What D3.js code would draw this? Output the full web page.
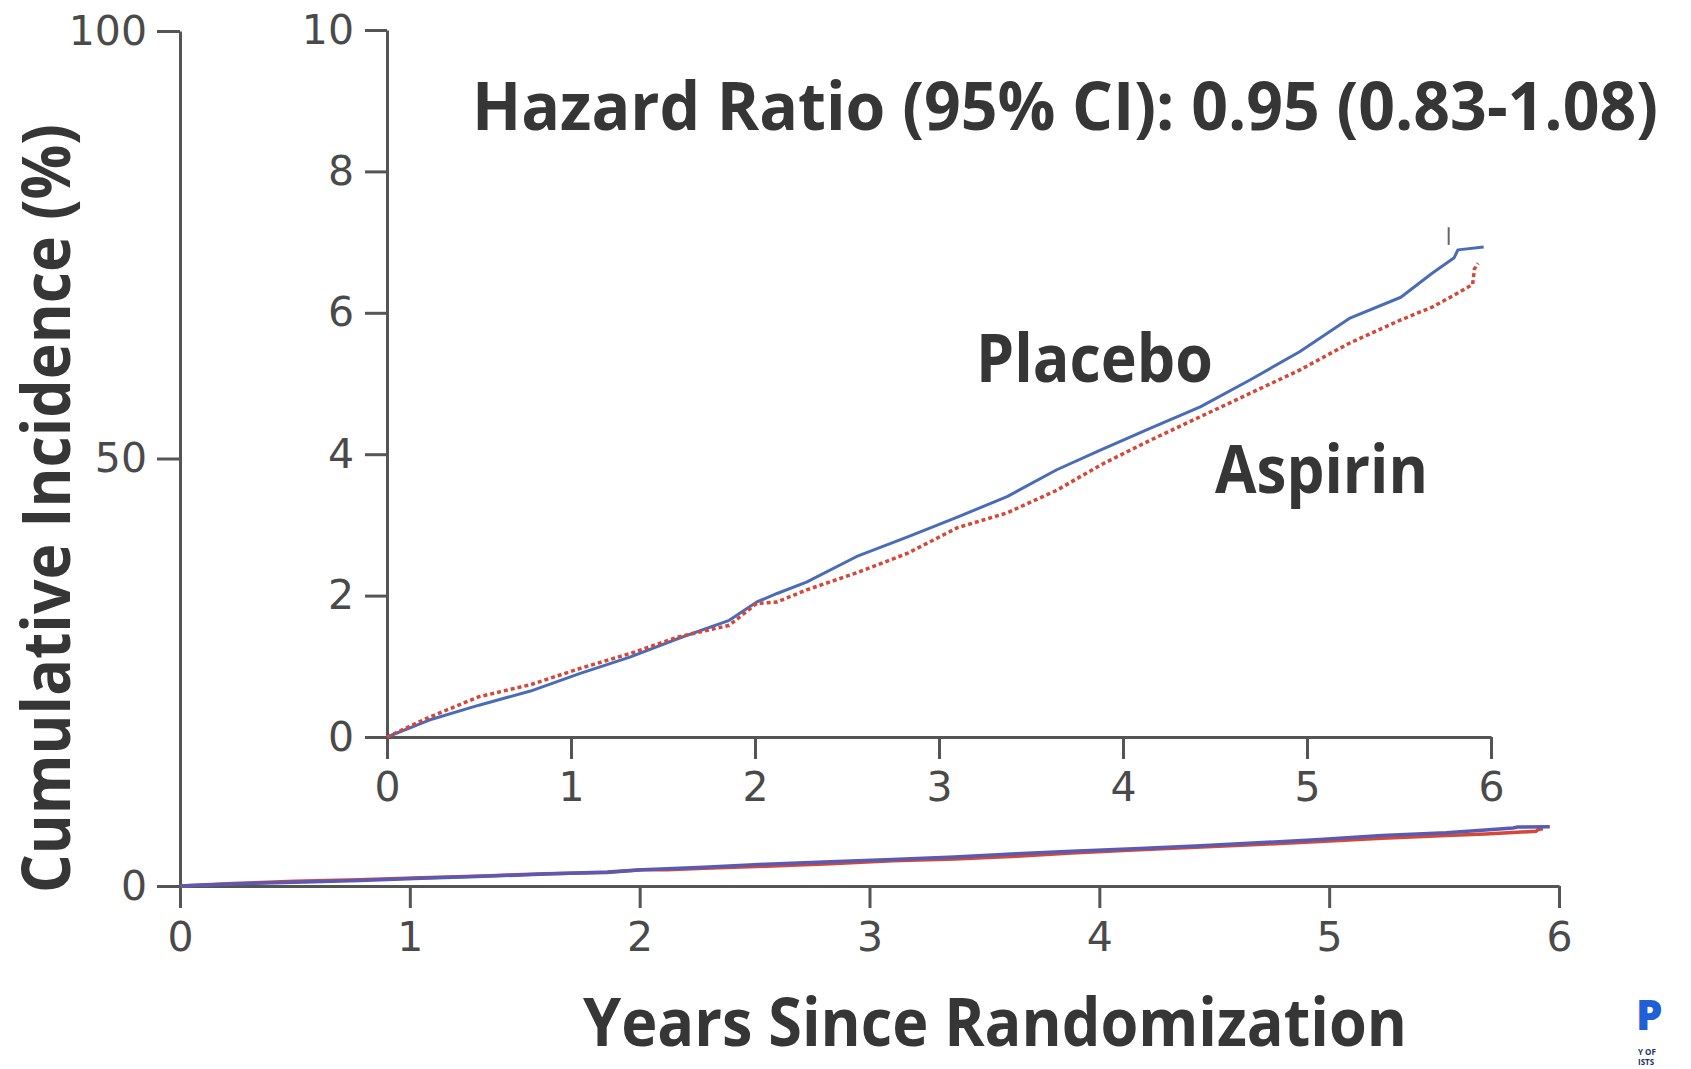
<!DOCTYPE html>
<html>
<head>
<meta charset="utf-8">
<script src="https://cdn.jsdelivr.net/npm/d3@7"></script>
<style>
  html, body { margin: 0; padding: 0; background: #fff; }
  svg { display: block; }
</style>
</head>
<body>
<svg id="chart" width="1691" height="1069"></svg>
<script>
// years since randomization, cumulative incidence (%)
const placeboYears = [0, 0.23, 0.5, 0.78, 1.05, 1.32, 1.59, 1.86, 2.01, 2.12, 2.28, 2.55, 2.83, 3.10, 3.37, 3.64, 3.88, 4.15, 4.42, 4.69, 4.96, 5.23, 5.51, 5.68, 5.80, 5.82, 5.96];
const placeboValues = [0, 0.24, 0.45, 0.65, 0.90, 1.13, 1.40, 1.65, 1.91, 2.03, 2.19, 2.55, 2.83, 3.11, 3.40, 3.78, 4.06, 4.37, 4.67, 5.05, 5.45, 5.92, 6.22, 6.56, 6.78, 6.89, 6.93];
const aspirinYears = [0, 0.23, 0.5, 0.78, 1.05, 1.32, 1.59, 1.86, 2.01, 2.12, 2.28, 2.55, 2.83, 3.10, 3.37, 3.64, 3.88, 4.15, 4.42, 4.69, 4.96, 5.23, 5.51, 5.68, 5.80, 5.90, 5.91, 5.93];
const aspirinValues = [0, 0.28, 0.57, 0.74, 0.97, 1.18, 1.42, 1.58, 1.89, 1.91, 2.08, 2.32, 2.60, 2.96, 3.17, 3.49, 3.85, 4.20, 4.53, 4.86, 5.19, 5.57, 5.90, 6.08, 6.25, 6.40, 6.62, 6.70];
const censorYear = 5.77;
const censorRange = [6.96, 7.21];

const xTicks = [0, 1, 2, 3, 4, 5, 6];
const innerYTicks = [0, 2, 4, 6, 8, 10];
const outerYTicks = [0, 50, 100];

const titleText = 'Hazard Ratio (95% CI): 0.95 (0.83-1.08)';
const yLabel = 'Cumulative Incidence (%)';
const xLabel = 'Years Since Randomization';

const colors = {
  placebo: '#4a6cb8',
  aspirin: '#d4483a',
  outer: '#5a5ab2',
  axis: '#555',
  tick: '#4a4a4a',
  text: '#363636'
};

const placebo = placeboYears.map((t, i) => ({ t, v: placeboValues[i] }));
const aspirin = aspirinYears.map((t, i) => ({ t, v: aspirinValues[i] }));
const fmt = d3.format('d');

const svg = d3.select('#chart');
svg.append('rect').attr('width', 1691).attr('height', 1069).attr('fill', '#fff');

const styleAxis = (g) => {
  g.selectAll('path, line').attr('stroke', colors.axis).attr('stroke-width', 3);
  g.selectAll('text')
    .attr('fill', colors.tick)
    .attr('font-family', 'DejaVu Sans, sans-serif')
    .attr('font-size', 41);
};

// outer plot (0-100 %)
const xOuter = d3.scaleLinear().domain([0, 6]).range([180, 1559]);
const yOuter = d3.scaleLinear().domain([0, 100]).range([886, 31]);

svg.append('g')
  .attr('transform', 'translate(0,886)')
  .call(d3.axisBottom(xOuter).tickValues(xTicks).tickFormat(fmt).tickSize(22).tickSizeOuter(0).tickPadding(14))
  .call(styleAxis);
svg.append('g')
  .attr('transform', 'translate(180,0)')
  .call(d3.axisLeft(yOuter).tickValues(outerYTicks).tickFormat(fmt).tickSize(23).tickSizeOuter(0).tickPadding(10))
  .call(styleAxis);

const outerLine = d3.line().x((d) => xOuter(d.t)).y((d) => yOuter(d.v));
svg.append('path').datum(aspirin).attr('d', outerLine)
  .attr('fill', 'none').attr('stroke', colors.aspirin).attr('stroke-width', 3.5);
svg.append('path').datum(placebo).attr('d', outerLine)
  .attr('fill', 'none').attr('stroke', colors.outer).attr('stroke-width', 3.5);

// inner plot (0-10 %)
const xInner = d3.scaleLinear().domain([0, 6]).range([387, 1491]);
const yInner = d3.scaleLinear().domain([0, 10]).range([737, 30]);

svg.append('g')
  .attr('transform', 'translate(0,737)')
  .call(d3.axisBottom(xInner).tickValues(xTicks).tickFormat(fmt).tickSize(22).tickSizeOuter(0).tickPadding(13))
  .call(styleAxis);
svg.append('g')
  .attr('transform', 'translate(387,0)')
  .call(d3.axisLeft(yInner).tickValues(innerYTicks).tickFormat(fmt).tickSize(22).tickSizeOuter(0).tickPadding(11))
  .call(styleAxis);

const innerLine = d3.line().x((d) => xInner(d.t)).y((d) => yInner(d.v));
svg.append('path').datum(placebo).attr('d', innerLine)
  .attr('fill', 'none').attr('stroke', colors.placebo).attr('stroke-width', 3)
  .attr('stroke-linejoin', 'round');
svg.append('path').datum(aspirin).attr('d', innerLine)
  .attr('fill', 'none').attr('stroke', colors.aspirin).attr('stroke-width', 3.5)
  .attr('stroke-dasharray', '4 3');
svg.append('line')
  .attr('x1', xInner(censorYear)).attr('x2', xInner(censorYear))
  .attr('y1', yInner(censorRange[0])).attr('y2', yInner(censorRange[1]))
  .attr('stroke', '#666').attr('stroke-width', 2);

// texts
const bigText = (txt, x, y, len, extra) => {
  const t = svg.append('text')
    .attr('x', x).attr('y', y)
    .attr('font-family', 'Open Sans, sans-serif')
    .attr('font-weight', 700)
    .attr('font-size', 66)
    .attr('fill', colors.text)
    .attr('textLength', len)
    .attr('lengthAdjust', 'spacingAndGlyphs')
    .text(txt);
  if (extra) extra(t);
  return t;
};

bigText(titleText, 472, 130, 1186);
bigText('Placebo', 976, 382, 237);
bigText('Aspirin', 1215, 493, 213);
bigText(xLabel, 583, 1046, 824);
bigText(yLabel, 0, 0, 769, (t) => t.attr('transform', 'translate(70,893) rotate(-90)'));

// partial logo at bottom right
svg.append('text')
  .attr('x', 1636).attr('y', 1030)
  .attr('font-family', 'Open Sans, sans-serif').attr('font-weight', 800)
  .attr('font-size', 42).attr('fill', '#1f5fd8')
  .text('P');
svg.append('text')
  .attr('x', 1638).attr('y', 1055)
  .attr('font-family', 'Open Sans, sans-serif').attr('font-weight', 700)
  .attr('font-size', 8).attr('fill', '#1b2f6b')
  .text('Y OF');
svg.append('text')
  .attr('x', 1638).attr('y', 1065)
  .attr('font-family', 'Open Sans, sans-serif').attr('font-weight', 700)
  .attr('font-size', 8).attr('fill', '#1b2f6b')
  .text('ISTS');
</script>
</body>
</html>
